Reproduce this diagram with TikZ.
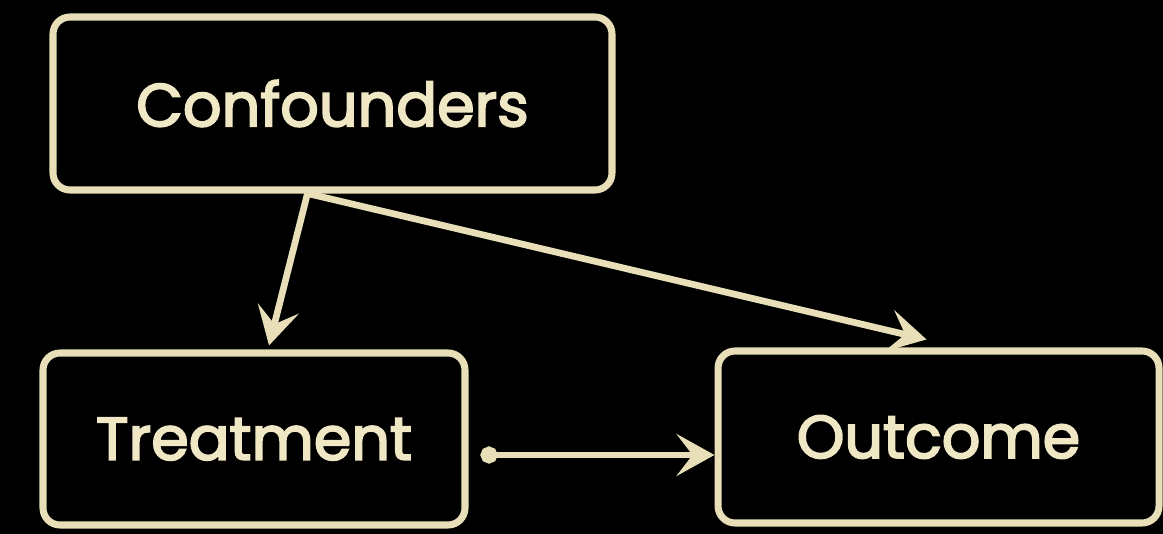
\documentclass[tikz,border=0pt]{standalone}
\usepackage{fontspec}
\setmainfont{Poppins}
\newfontfamily\labelfont{Poppins}[FakeBold=3]
\usepackage{tikz}
\usetikzlibrary{positioning, arrows.meta}
\definecolor{cream}{HTML}{E8DEB8}
\definecolor{creamtext}{HTML}{F0E7C4}

\begin{document}
\begin{tikzpicture}[
    block/.style={draw=cream, line width=2pt, rounded corners=0.17cm, minimum height=1.72cm, align=center, text=creamtext, font=\labelfont\fontsize{17.2}{21}\selectfont},
    arr/.style={-{Stealth[length=3.8mm, width=4.2mm, inset=1.6mm]}, line width=1.9pt, cream},
    dotarr/.style={{Circle[length=1.7mm]}-{Stealth[length=3.8mm, width=4.2mm, inset=1.6mm]}, line width=1.9pt, cream}
]

% Background
\fill[black] (0,0) rectangle (11.63,5.34);
\useasboundingbox (0,0) rectangle (11.63,5.34);

% Confounders
\node[block, minimum width=5.59cm, minimum height=1.73cm] (conf) at (3.325,4.305) {Confounders};

% Treatment
\node[block, minimum width=4.22cm] (treat) at (2.54,0.95) {Treatment};

% Outcome
\node[block, minimum width=4.41cm, right=2.46cm of treat, yshift=0.02cm] (out) {Outcome};

% Arrows
\coordinate (src) at ([xshift=-0.25cm]conf.south);
\coordinate (tstart) at ([xshift=0.12cm, yshift=-0.16cm]treat.east);
\draw[arr] (src) -- ([xshift=0.15cm, yshift=0.04cm]treat.north);
\draw[arr] (src) -- ([xshift=-0.12cm, yshift=0.08cm]out.north);
\draw[dotarr] (tstart) -- (tstart -| out.west);

\end{tikzpicture}
\end{document}
